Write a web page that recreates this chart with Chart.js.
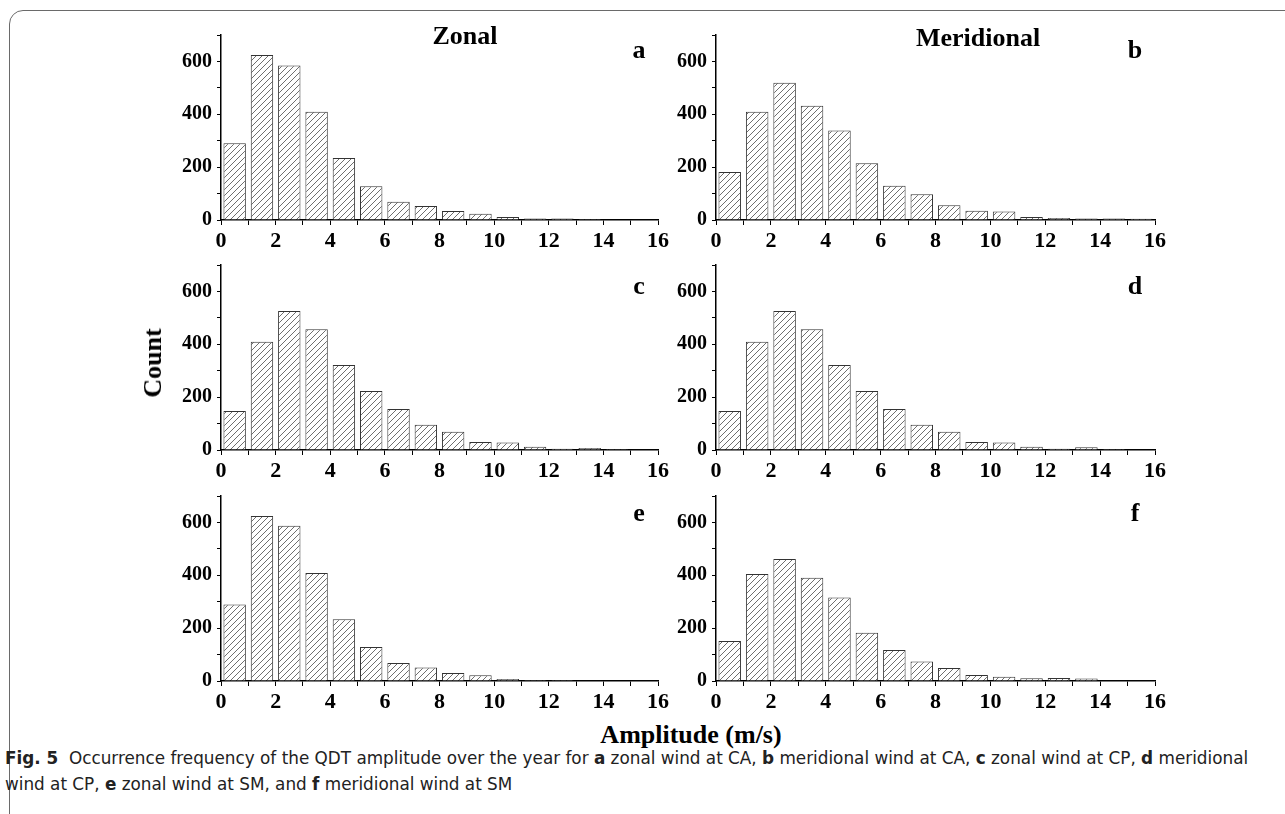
<!DOCTYPE html>
<html>
<head>
<meta charset="utf-8">
<script src="https://cdn.jsdelivr.net/npm/chart.js@4.4.1/dist/chart.umd.min.js"></script>
<style>
    body { margin: 0; background: #fff; width: 1285px; height: 814px; overflow: hidden; position: relative; }
    .frame { position: absolute; left: 9px; top: 10px; width: 1300px; height: 820px; border: 1.5px solid #6a6a6a; border-radius: 14px 0 0 14px; box-sizing: border-box; }
    canvas.panel { position: absolute; }
    .txt { position: absolute; font-family: "Liberation Serif", "Times New Roman", serif; font-weight: bold; font-size: 26px; line-height: 26px; color: #000; white-space: nowrap; transform: translateX(-50%); }
    .caption { position: absolute; left: 5px; top: 745px; font-family: "DejaVu Sans Condensed", "Liberation Sans Narrow", sans-serif; font-size: 17px; line-height: 26px; color: #222; white-space: nowrap; transform: scaleX(1.1); transform-origin: 0 0; }
</style>
</head>
<body>
<div class="frame"></div>

<canvas id="panelA" class="panel" width="524" height="232" style="left:150px;top:18px"></canvas>
<canvas id="panelB" class="panel" width="526" height="232" style="left:645px;top:18px"></canvas>
<canvas id="panelC" class="panel" width="524" height="232" style="left:150px;top:248px"></canvas>
<canvas id="panelD" class="panel" width="526" height="232" style="left:645px;top:248px"></canvas>
<canvas id="panelE" class="panel" width="524" height="232" style="left:150px;top:479px"></canvas>
<canvas id="panelF" class="panel" width="526" height="232" style="left:645px;top:479px"></canvas>

<div class="txt" style="left:465px;top:23px">Zonal</div>
<div class="txt" style="left:978px;top:25px">Meridional</div>
<div class="txt" style="left:639px;top:37px">a</div>
<div class="txt" style="left:1135px;top:37px">b</div>
<div class="txt" style="left:639px;top:273px">c</div>
<div class="txt" style="left:1135px;top:273px">d</div>
<div class="txt" style="left:639px;top:500px">e</div>
<div class="txt" style="left:1135px;top:500px">f</div>
<div class="txt" style="left:153px;top:350px;transform:translateX(-50%) rotate(-90deg)">Count</div>
<div class="txt" style="left:691px;top:722px">Amplitude (m/s)</div>

<div class="caption"><b>Fig. 5</b>&nbsp; Occurrence frequency of the QDT amplitude over the year for <b>a</b> zonal wind at CA, <b>b</b> meridional wind at CA, <b>c</b> zonal wind at CP, <b>d</b> meridional<br>wind at CP, <b>e</b> zonal wind at SM, and <b>f</b> meridional wind at SM</div>

<script>
// amplitude bins (m/s), bar centres
const binCenters = [0.5, 1.5, 2.5, 3.5, 4.5, 5.5, 6.5, 7.5, 8.5, 9.5, 10.5, 11.5, 12.5, 13.5, 14.5, 15.5];

// counts
const zonalCA      = [290, 624, 585, 410, 235, 128, 69, 53, 34, 24, 11, 6, 6, 4, 0, 1];
const meridionalCA = [182, 410, 519, 432, 339, 215, 130, 97, 56, 35, 32, 11, 8, 6, 6, 5];
const zonalCP      = [148, 410, 526, 457, 322, 223, 155, 96, 69, 30, 28, 12, 5, 8, 4, 1];
const meridionalCP = [148, 410, 526, 457, 322, 223, 155, 96, 69, 30, 28, 12, 5, 10, 4, 1];
const zonalSM      = [289, 624, 587, 409, 234, 129, 68, 51, 30, 22, 8, 4, 4, 1, 0, 1];
const meridionalSM = [151, 405, 462, 391, 316, 183, 117, 74, 49, 23, 16, 10, 11, 9, 1, 1];

const xTickLabels = ['0', '2', '4', '6', '8', '10', '12', '14', '16'];
const yTickLabels = ['0', '200', '400', '600'];

const tickFont = { family: 'Liberation Serif', weight: 'bold' };

function makeHatch(ctx) {
    const tile = document.createElement('canvas');
    tile.width = 6;
    tile.height = 6;
    const g = tile.getContext('2d');
    g.fillStyle = '#fff';
    g.fillRect(0, 0, 6, 6);
    g.strokeStyle = '#4a4a4a';
    g.lineWidth = 0.8;
    g.beginPath();
    g.moveTo(0, 6); g.lineTo(6, 0);
    g.moveTo(-1, 1); g.lineTo(1, -1);
    g.moveTo(5, 7); g.lineTo(7, 5);
    g.stroke();
    return ctx.createPattern(tile, 'repeat');
}

function drawPanel(id, counts) {
    const canvas = document.getElementById(id);
    const ctx = canvas.getContext('2d');

    new Chart(ctx, {
        type: 'bar',
        data: {
            datasets: [{
                data: binCenters.map((x, i) => ({ x, y: counts[i] })),
                backgroundColor: makeHatch(ctx),
                borderColor: '#333',
                borderWidth: 1,
                barPercentage: 0.82,
                categoryPercentage: 1
            }]
        },
        options: {
            responsive: false,
            animation: false,
            layout: { padding: { top: 10, right: 16, left: 0, bottom: 0 } },
            plugins: {
                legend: { display: false },
                tooltip: { enabled: false }
            },
            scales: {
                x: {
                    type: 'linear',
                    min: 0,
                    max: 16,
                    offset: false,
                    border: { color: '#000', width: 1.5 },
                    grid: { offset: false, drawOnChartArea: false, tickLength: 5, tickColor: '#000' },
                    ticks: {
                        stepSize: 1,
                        autoSkip: false,
                        maxRotation: 0,
                        padding: 3,
                        color: '#000',
                        font: { ...tickFont, size: 22 },
                        callback: v => xTickLabels.includes(String(v)) ? String(v) : ''
                    },
                    afterFit: scale => { scale.height = 30; }
                },
                y: {
                    min: 0,
                    max: 700,
                    border: { color: '#000', width: 1.5 },
                    grid: { drawOnChartArea: false, tickLength: 4, tickColor: '#000' },
                    ticks: {
                        stepSize: 100,
                        autoSkip: false,
                        padding: 5,
                        color: '#000',
                        font: { ...tickFont, size: 20 },
                        callback: v => yTickLabels.includes(String(v)) ? String(v) : ''
                    },
                    afterFit: scale => { scale.width = 71; }
                }
            }
        }
    });
}

drawPanel('panelA', zonalCA);
drawPanel('panelB', meridionalCA);
drawPanel('panelC', zonalCP);
drawPanel('panelD', meridionalCP);
drawPanel('panelE', zonalSM);
drawPanel('panelF', meridionalSM);
</script>
</body>
</html>
